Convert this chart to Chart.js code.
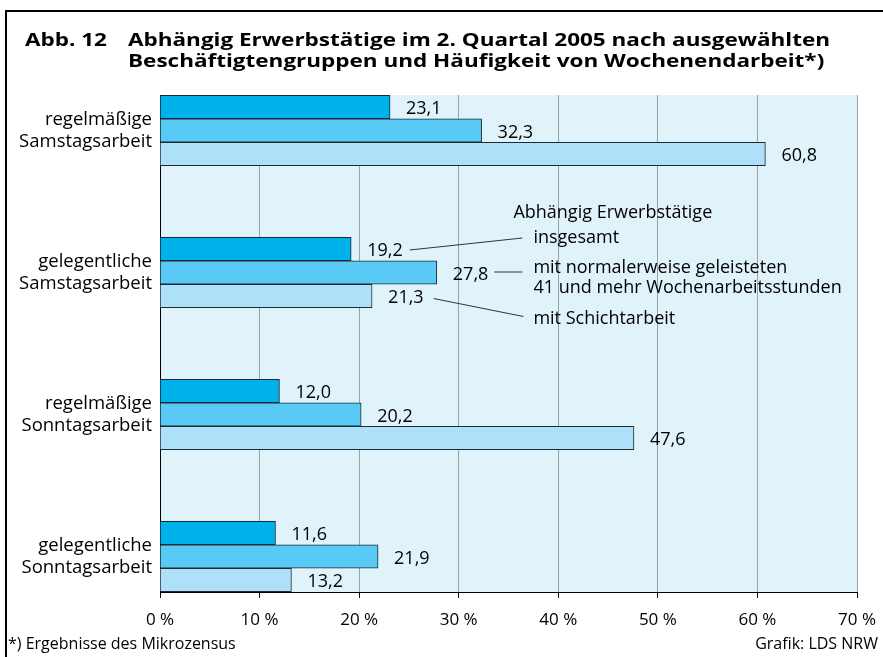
<!DOCTYPE html>
<html><head><meta charset="utf-8">
<script src="https://cdn.jsdelivr.net/npm/chart.js@4.4.1/dist/chart.umd.min.js"></script>
<style>
html,body{margin:0;padding:0;background:#fff;}
#wrap{position:relative;width:883px;height:657px;overflow:hidden;font-family:"Open Sans",sans-serif;}
#frame{position:absolute;left:5px;top:10px;right:-5px;bottom:-5px;border-top:2px solid #000;border-left:2px solid #000;}
canvas{position:absolute;left:0;top:0;}
.t{position:absolute;white-space:nowrap;font-weight:700;font-size:18px;line-height:18px;color:#000;transform-origin:0 0;}
.f{position:absolute;white-space:nowrap;font-size:16px;line-height:16px;color:#000;}
</style></head>
<body>
<div id="wrap">
  <canvas id="c" width="883" height="657"></canvas>
  <div id="frame"></div>
  <div class="t" id="abb" style="left:25px;top:30px;">Abb. 12</div>
  <div class="t" id="t1" style="left:128px;top:30px;">Abhängig Erwerbstätige im 2. Quartal 2005 nach ausgewählten</div>
  <div class="t" id="t2" style="left:128px;top:51px;">Beschäftigtengruppen und Häufigkeit von Wochenendarbeit*)</div>
  <div class="f" id="f1" style="left:8px;top:635px;">*) Ergebnisse des Mikrozensus</div>
  <div class="f" id="f2" style="right:5px;top:635px;">Grafik: LDS NRW</div>
</div>
<script>
const categories = [["regelmäßige","Samstagsarbeit"],["gelegentliche","Samstagsarbeit"],["regelmäßige","Sonntagsarbeit"],["gelegentliche","Sonntagsarbeit"]];
const seriesNames = ["Abhängig Erwerbstätige insgesamt","mit normalerweise geleisteten 41 und mehr Wochenarbeitsstunden","mit Schichtarbeit"];
const insgesamt = [23.1, 19.2, 12.0, 11.6];
const wochenstunden41 = [32.3, 27.8, 20.2, 21.9];
const schichtarbeit = [60.8, 21.3, 47.6, 13.2];
const xTickValues = [0,10,20,30,40,50,60,70];
const barColors = ["#00b2ec","#58caf5","#aee0f9"];

// fit title to the reference width (same horizontal scale for all title parts)
(function(){
  const t1=document.getElementById('t1');
  const s=702/t1.getBoundingClientRect().width;
  ['abb','t1','t2'].forEach(id=>{document.getElementById(id).style.transform='scaleX('+s+')';});
})();

const fmt = v => v.toFixed(1).replace('.', ',');
const series = [insgesamt, wochenstunden41, schichtarbeit];

const bgPlugin = {
  id:'bg',
  beforeDraw(chart){
    const a=chart.chartArea, ctx=chart.ctx;
    ctx.save(); ctx.fillStyle='#e0f2fa';
    ctx.fillRect(a.left,a.top,a.right-a.left,a.bottom-a.top);
    ctx.restore();
  }
};

const labelPlugin = {
  id:'valueLabels',
  afterDatasetsDraw(chart){
    const ctx=chart.ctx; ctx.save();
    ctx.font='18px "Open Sans"'; ctx.fillStyle='#000';
    ctx.textBaseline='middle'; ctx.textAlign='left';
    const ends=[];
    chart.data.datasets.forEach((ds,di)=>{
      ends[di]=[];
      chart.getDatasetMeta(di).data.forEach((bar,i)=>{
        const txt=fmt(ds.data[i].x);
        ctx.fillText(txt, bar.x+16, bar.y+2);
        ends[di][i]=bar.x+16+ctx.measureText(txt).width;
      });
    });
    // notes for the second group
    const g=1;
    const b0=chart.getDatasetMeta(0).data[g], b1=chart.getDatasetMeta(1).data[g], b2=chart.getDatasetMeta(2).data[g];
    const noteX=chart.scales.x.getPixelForValue(37.5);
    ctx.fillText('Abhängig Erwerbstätige', noteX-20, b0.y-36);
    ctx.fillText('insgesamt', noteX, b0.y-11);
    ctx.fillText('mit normalerweise geleisteten', noteX, b1.y-5);
    ctx.fillText('41 und mehr Wochenarbeitsstunden', noteX, b1.y+15);
    ctx.fillText('mit Schichtarbeit', noteX, b2.y+23);
    ctx.strokeStyle='#333'; ctx.lineWidth=1;
    ctx.beginPath();
    ctx.moveTo(ends[0][g]+7, b0.y+1); ctx.lineTo(noteX-11, b0.y-11);
    ctx.moveTo(ends[1][g]+6, b1.y-0.5); ctx.lineTo(noteX-11, b1.y-0.5);
    ctx.moveTo(ends[2][g]+10, b2.y+2.5); ctx.lineTo(noteX-10, b2.y+20.5);
    ctx.stroke();
    ctx.restore();
  }
};

new Chart(document.getElementById('c'), {
  type:'bar',
  data:{
    datasets: series.map((s,di)=>({
      label: seriesNames[di],
      data: s.map((v,i)=>({x:v,y:i})),
      backgroundColor: barColors[di]
    }))
  },
  options:{
    indexAxis:'y', responsive:false, animation:false,
    layout:{padding:{top:95,right:26,left:0,bottom:0}},
    plugins:{legend:{display:false},tooltip:{enabled:false},title:{display:false}},
    datasets:{bar:{barThickness:23.5,borderWidth:1,borderColor:'#1e2a33'}},
    scales:{
      x:{type:'linear',position:'bottom',min:0,max:70,
        afterBuildTicks:s=>{s.ticks=xTickValues.map(v=>({value:v}));},
        ticks:{color:'#000',font:{family:'Open Sans',size:17},padding:12,callback:v=>v+' %',maxRotation:0,autoSkip:false},
        grid:{color:'#a0a0a0',tickColor:'#000',tickLength:6,lineWidth:1},
        border:{color:'#000',width:1},
        afterFit:s=>{s.height=65;s.paddingLeft=0;s.paddingRight=0;}},
      y:{type:'linear',reverse:true,min:-0.25,max:3.25,offset:false,
        afterBuildTicks:s=>{s.ticks=categories.map((c,i)=>({value:i}));},
        ticks:{callback:v=>categories[v],color:'#000',font:{family:'Open Sans',size:18.5,lineHeight:1.19},padding:8,autoSkip:false},
        grid:{display:false,drawTicks:false,offset:false},
        border:{color:'#000',width:1},
        afterFit:s=>{s.width=160;s.paddingTop=0;s.paddingBottom=0;}}
    }
  },
  plugins:[bgPlugin,labelPlugin]
});
</script>
</body></html>
